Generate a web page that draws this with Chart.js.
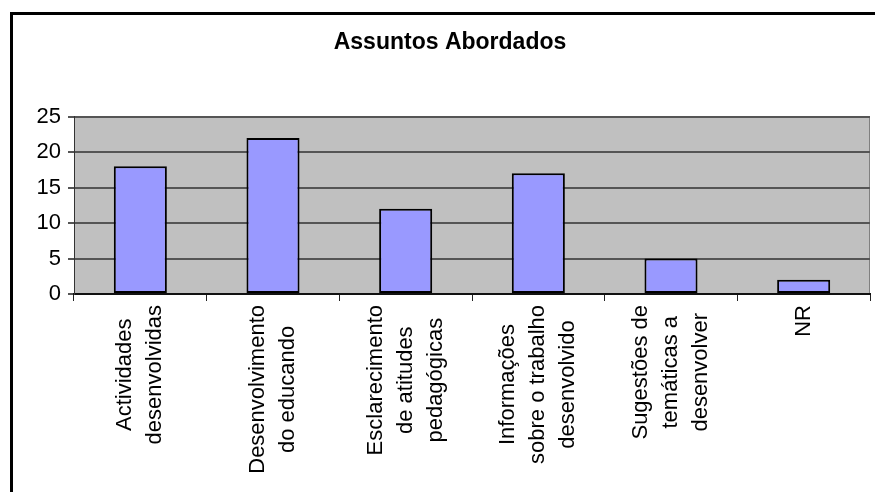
<!DOCTYPE html>
<html>
<head>
<meta charset="utf-8">
<script src="https://cdn.jsdelivr.net/npm/chart.js@4.4.1/dist/chart.umd.min.js"></script>
<style>
  html, body { margin: 0; padding: 0; background: #fff; }
  #wrap { position: relative; width: 875px; height: 492px; }
</style>
</head>
<body>
<div id="wrap"><canvas id="assuntosChart" width="875" height="492"></canvas></div>
<script>
// categorias (quebradas em linhas como no eixo)
const categories = [
  ["Actividades", "desenvolvidas"],
  ["Desenvolvimento", "do educando"],
  ["Esclarecimento", "de atitudes", "pedagógicas"],
  ["Informações", "sobre o trabalho", "desenvolvido"],
  ["Sugestões de", "temáticas a", "desenvolver"],
  ["NR"]
];
const respostas = [18, 22, 12, 17, 5, 2];
const yTicks = [0, 5, 10, 15, 20, 25];

const FONT = '"Liberation Sans", Arial, sans-serif';

// fundo branco, moldura, área do gráfico cinzenta
const framePlugin = {
  id: 'frame',
  beforeDraw(chart) {
    const { ctx, chartArea: a } = chart;
    ctx.save();
    ctx.fillStyle = '#fff';
    ctx.fillRect(0, 0, chart.width, chart.height);
    ctx.fillStyle = '#000';
    ctx.fillRect(10, 12, chart.width, 3);
    ctx.fillRect(10, 12, 3, chart.height);
    ctx.fillStyle = '#c0c0c0';
    ctx.fillRect(a.left, a.top, a.right - a.left, a.bottom - a.top);
    ctx.strokeStyle = '#808080';
    ctx.lineWidth = 1;
    ctx.strokeRect(a.left + 0.5, a.top + 0.5, a.right - a.left - 1, a.bottom - a.top - 1);
    ctx.restore();
  }
};

// rótulos do eixo X: rodados 90°, linhas centradas entre si
const catLabelsPlugin = {
  id: 'catLabels',
  afterDraw(chart) {
    const { ctx } = chart;
    const x = chart.scales.x;
    ctx.save();
    ctx.font = '22px ' + FONT;
    ctx.fillStyle = '#000';
    ctx.textAlign = 'center';
    ctx.textBaseline = 'middle';
    categories.forEach((lines, i) => {
      const cx = x.getPixelForValue(i);
      const longest = Math.max(...lines.map(l => ctx.measureText(l).width));
      const cy = x.top + 11 + longest / 2;
      lines.forEach((line, j) => {
        const lx = cx + (j - (lines.length - 1) / 2) * 30;
        ctx.save();
        ctx.translate(lx, cy);
        ctx.rotate(-Math.PI / 2);
        ctx.fillText(line, 0, 0);
        ctx.restore();
      });
    });
    ctx.restore();
  }
};

new Chart(document.getElementById('assuntosChart'), {
  type: 'bar',
  data: {
    labels: categories.map(l => l.join(' ')),
    datasets: [{
      label: 'Assuntos',
      data: respostas,
      backgroundColor: '#9999ff',
      borderColor: '#000',
      borderWidth: 2,
      borderSkipped: false,
      categoryPercentage: 1,
      barPercentage: 0.4
    }]
  },
  options: {
    responsive: false,
    animation: false,
    devicePixelRatio: 1,
    layout: { padding: { left: 30, right: 5, top: 0, bottom: 0 } },
    plugins: {
      legend: { display: false },
      tooltip: { enabled: false },
      title: {
        display: true,
        text: 'Assuntos Abordados',
        color: '#000',
        font: { family: FONT, size: 23, weight: 'bold' },
        padding: { top: 29, bottom: 60 }
      }
    },
    scales: {
      x: {
        offset: true,
        grid: { display: true, drawOnChartArea: false, drawTicks: true, tickLength: 7, color: '#222', offset: true },
        border: { display: true, color: '#111', width: 2 },
        ticks: { display: false },
        afterFit(s) { s.height = 198; }
      },
      y: {
        min: 0,
        max: 25,
        afterBuildTicks(s) { s.ticks = yTicks.map(v => ({ value: v })); },
        grid: { color: '#555', lineWidth: 2, tickLength: 6 },
        border: { display: true, color: '#333', width: 1 },
        ticks: { color: '#000', padding: 7, font: { family: FONT, size: 22 } },
        afterFit(s) { s.width = 44; }
      }
    }
  },
  plugins: [framePlugin, catLabelsPlugin]
});
</script>
</body>
</html>
